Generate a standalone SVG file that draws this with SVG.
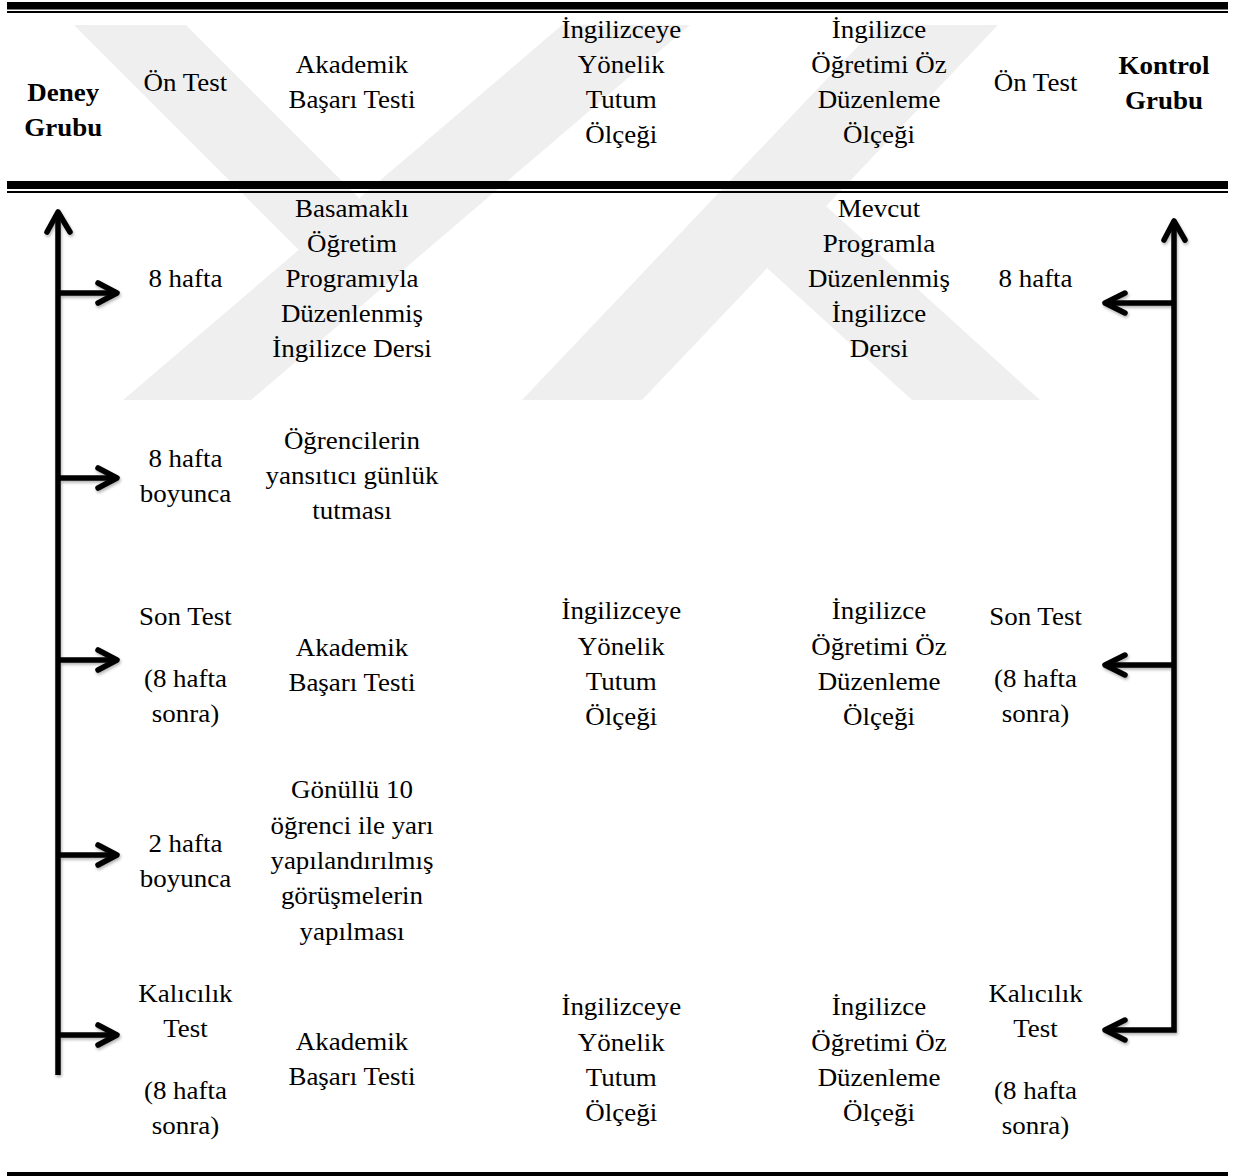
<svg xmlns="http://www.w3.org/2000/svg" width="1241" height="1176" viewBox="0 0 1241 1176">
<style>
  .t { font-family: "Liberation Serif", "Times New Roman", serif; font-size: 24.5px; fill: #000; text-anchor: middle; }
  .b { font-weight: bold; }
  .wm { fill: #efefef; }
  .bar { fill: #000; }
  .ar { fill: none; stroke: #000; stroke-width: 5.5; stroke-linecap: round; stroke-linejoin: round; }
  .shaft { fill: none; stroke: #000; stroke-width: 5.5; stroke-linecap: butt; stroke-linejoin: miter; }
</style>
<defs>
  <filter id="sh" x="-20%" y="-20%" width="140%" height="140%">
    <feDropShadow dx="1" dy="2" stdDeviation="1.5" flood-color="#000" flood-opacity="0.3"/>
  </filter>
</defs>
<rect width="1241" height="1176" fill="#fff"/>
<g id="watermark">
  <polygon class="wm" points="562,25 690,25 251,400 123,400"/>
  <polygon class="wm" points="74,25 186,25 359,198 299,250"/>
  <polygon class="wm" points="878,25 998,25 642,400 522,400"/>
  <polygon class="wm" points="826,206 1040,400 912,400 767,268"/>
</g>
<g id="rules">
  <rect class="bar" x="7" y="2" width="1221" height="7.5"/>
  <rect class="bar" x="7" y="11" width="1221" height="2"/>
  <rect class="bar" x="7" y="181" width="1221" height="8"/>
  <rect class="bar" x="7" y="191" width="1221" height="2"/>
  <rect class="bar" x="7" y="1172" width="1221" height="4"/>
</g>
<g id="connectors" filter="url(#sh)">
  <path class="shaft" d="M58,1075 V213"/>
  <polyline class="ar" points="47,232 58,212 70,232"/>
  <path class="shaft" d="M58,293 H116"/>
  <polyline class="ar" points="98,283 117,293 98,303"/>
  <path class="shaft" d="M58,478 H116"/>
  <polyline class="ar" points="98,468 117,478 98,488"/>
  <path class="shaft" d="M58,660 H116"/>
  <polyline class="ar" points="98,650 117,660 98,670"/>
  <path class="shaft" d="M58,855 H116"/>
  <polyline class="ar" points="98,845 117,855 98,865"/>
  <path class="shaft" d="M58,1035 H116"/>
  <polyline class="ar" points="98,1025 117,1035 98,1045"/>
  <path class="shaft" d="M1174,222 V1030 H1106"/>
  <polyline class="ar" points="1164,240 1174,221 1185,240"/>
  <path class="shaft" d="M1174,303 H1106"/>
  <polyline class="ar" points="1125,293 1105,303 1125,313"/>
  <path class="shaft" d="M1174,665 H1106"/>
  <polyline class="ar" points="1125,655 1105,665 1125,675"/>
  <polyline class="ar" points="1125,1020 1105,1030 1125,1040"/>
</g>
<g transform="scale(1.1 1)">
  <g id="deney-grubu"><text class="t b" x="57.5" y="101">Deney</text><text class="t b" x="57.5" y="136">Grubu</text></g>
  <g id="on-test-d"><text class="t" x="168.6" y="91">Ön Test</text></g>
  <g id="abt-header"><text class="t" x="320" y="73">Akademik</text><text class="t" x="320" y="108">Başarı Testi</text></g>
  <g id="tutum-header"><text class="t" x="564.8" y="38">İngilizceye</text><text class="t" x="564.8" y="73">Yönelik</text><text class="t" x="564.8" y="108">Tutum</text><text class="t" x="564.8" y="143">Ölçeği</text></g>
  <g id="oz-header"><text class="t" x="799.1" y="38">İngilizce</text><text class="t" x="799.1" y="73">Öğretimi Öz</text><text class="t" x="799.1" y="108">Düzenleme</text><text class="t" x="799.1" y="143">Ölçeği</text></g>
  <g id="on-test-k"><text class="t" x="941.4" y="91">Ön Test</text></g>
  <g id="kontrol-grubu"><text class="t b" x="1058.2" y="74">Kontrol</text><text class="t b" x="1058.2" y="109">Grubu</text></g>

  <g id="d-8hafta"><text class="t" x="168.6" y="287">8 hafta</text></g>
  <g id="basamakli"><text class="t" x="320" y="217">Basamaklı</text><text class="t" x="320" y="252">Öğretim</text><text class="t" x="320" y="287">Programıyla</text><text class="t" x="320" y="322">Düzenlenmiş</text><text class="t" x="320" y="357">İngilizce Dersi</text></g>
  <g id="mevcut"><text class="t" x="799.1" y="217">Mevcut</text><text class="t" x="799.1" y="252">Programla</text><text class="t" x="799.1" y="287">Düzenlenmiş</text><text class="t" x="799.1" y="322">İngilizce</text><text class="t" x="799.1" y="357">Dersi</text></g>
  <g id="k-8hafta"><text class="t" x="941.4" y="287">8 hafta</text></g>

  <g id="d-8hafta-boyunca"><text class="t" x="168.6" y="467">8 hafta</text><text class="t" x="168.6" y="502">boyunca</text></g>
  <g id="gunluk"><text class="t" x="320" y="449">Öğrencilerin</text><text class="t" x="320" y="484">yansıtıcı günlük</text><text class="t" x="320" y="519">tutması</text></g>

  <g id="d-son-test"><text class="t" x="168.6" y="625">Son Test</text><text class="t" x="168.6" y="687">(8 hafta</text><text class="t" x="168.6" y="722">sonra)</text></g>
  <g id="abt-son"><text class="t" x="320" y="656">Akademik</text><text class="t" x="320" y="691">Başarı Testi</text></g>
  <g id="tutum-son"><text class="t" x="564.8" y="619">İngilizceye</text><text class="t" x="564.8" y="655">Yönelik</text><text class="t" x="564.8" y="690">Tutum</text><text class="t" x="564.8" y="725">Ölçeği</text></g>
  <g id="oz-son"><text class="t" x="799.1" y="619">İngilizce</text><text class="t" x="799.1" y="655">Öğretimi Öz</text><text class="t" x="799.1" y="690">Düzenleme</text><text class="t" x="799.1" y="725">Ölçeği</text></g>
  <g id="k-son-test"><text class="t" x="941.4" y="625">Son Test</text><text class="t" x="941.4" y="687">(8 hafta</text><text class="t" x="941.4" y="722">sonra)</text></g>

  <g id="d-2hafta"><text class="t" x="168.6" y="852">2 hafta</text><text class="t" x="168.6" y="887">boyunca</text></g>
  <g id="gorusme"><text class="t" x="320" y="798">Gönüllü 10</text><text class="t" x="320" y="834">öğrenci ile yarı</text><text class="t" x="320" y="869">yapılandırılmış</text><text class="t" x="320" y="904">görüşmelerin</text><text class="t" x="320" y="940">yapılması</text></g>

  <g id="d-kalicilik"><text class="t" x="168.6" y="1002">Kalıcılık</text><text class="t" x="168.6" y="1037">Test</text><text class="t" x="168.6" y="1099">(8 hafta</text><text class="t" x="168.6" y="1134">sonra)</text></g>
  <g id="abt-kal"><text class="t" x="320" y="1050">Akademik</text><text class="t" x="320" y="1085">Başarı Testi</text></g>
  <g id="tutum-kal"><text class="t" x="564.8" y="1015">İngilizceye</text><text class="t" x="564.8" y="1051">Yönelik</text><text class="t" x="564.8" y="1086">Tutum</text><text class="t" x="564.8" y="1121">Ölçeği</text></g>
  <g id="oz-kal"><text class="t" x="799.1" y="1015">İngilizce</text><text class="t" x="799.1" y="1051">Öğretimi Öz</text><text class="t" x="799.1" y="1086">Düzenleme</text><text class="t" x="799.1" y="1121">Ölçeği</text></g>
  <g id="k-kalicilik"><text class="t" x="941.4" y="1002">Kalıcılık</text><text class="t" x="941.4" y="1037">Test</text><text class="t" x="941.4" y="1099">(8 hafta</text><text class="t" x="941.4" y="1134">sonra)</text></g>
</g>
</svg>
